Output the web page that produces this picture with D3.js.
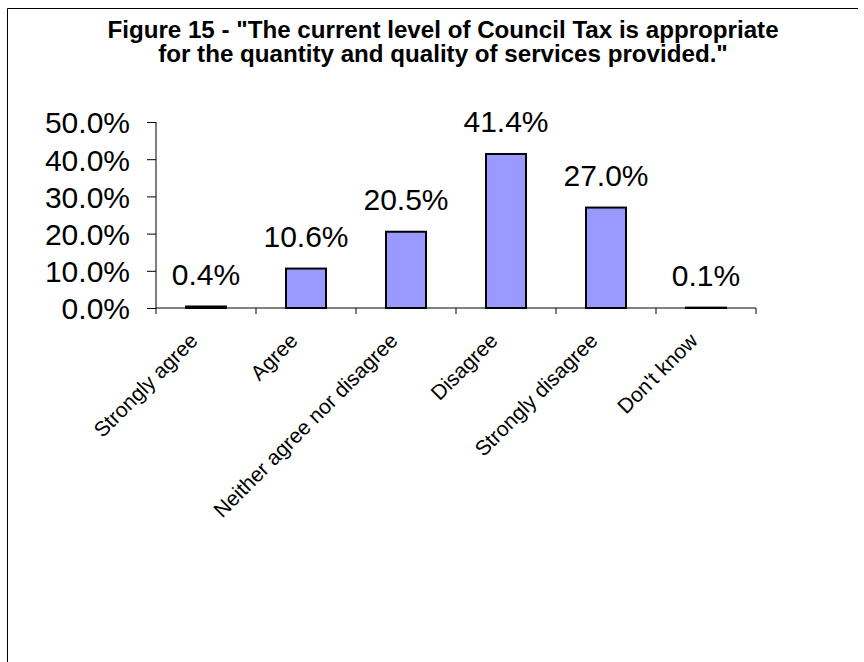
<!DOCTYPE html>
<html>
<head>
<meta charset="utf-8">
<script src="https://cdn.jsdelivr.net/npm/d3@7/dist/d3.min.js"></script>
<style>
  html, body { margin: 0; padding: 0; background: #fff; }
  svg { display: block; }
  text { font-family: "Liberation Sans", Arial, sans-serif; fill: #000; }
</style>
</head>
<body>
<svg id="chart" width="864" height="662"></svg>
<script>
// Survey responses (% of respondents)
const categories = ["Strongly agree", "Agree", "Neither agree nor disagree", "Disagree", "Strongly disagree", "Don't know"];
const values = [0.4, 10.6, 20.5, 41.4, 27.0, 0.1];
const yTicks = [0, 10, 20, 30, 40, 50];
const titleLines = ["Figure 15 - \"The current level of Council Tax is appropriate", "for the quantity and quality of services provided.\""];

const svg = d3.select("#chart");

// frame (top and left edges)
svg.append("line").attr("x1", 7.5).attr("x2", 858).attr("y1", 8.5).attr("y2", 8.5)
  .attr("stroke", "#000").attr("stroke-width", 1);
svg.append("line").attr("x1", 7.5).attr("x2", 7.5).attr("y1", 8.5).attr("y2", 662)
  .attr("stroke", "#000").attr("stroke-width", 1);

// title, slightly widened bold face
titleLines.forEach((t, i) => {
  svg.append("text")
    .attr("transform", `translate(443,${38 + i * 24}) scale(1.05,1)`)
    .attr("text-anchor", "middle")
    .style("font-weight", "bold").style("font-size", "23px")
    .text(t);
});

const x = d3.scaleBand().domain(categories).range([156, 756])
  .paddingInner(0.6).paddingOuter(0.3);
const y = d3.scaleLinear().domain([0, 50]).range([308, 122]);

// y axis
const yAxis = svg.append("g").attr("transform", "translate(156,0)")
  .call(d3.axisLeft(y).tickValues(yTicks).tickSize(9).tickPadding(17)
    .tickFormat(d => d.toFixed(1) + "%"));
yAxis.select(".domain").attr("stroke", "#000").attr("d", "M0,122V308");
yAxis.selectAll(".tick line").attr("stroke", "#000");
yAxis.selectAll(".tick text").style("font-size", "30px").attr("dy", "0.36em")
  .style("font-family", "'Liberation Sans', Arial, sans-serif");

// x axis: line plus ticks on category boundaries
const boundaries = d3.range(categories.length + 1).map(i => 156 + i * x.step());
svg.append("line").attr("x1", 156).attr("x2", 756).attr("y1", 308).attr("y2", 308)
  .attr("stroke", "#000");
svg.selectAll(".xtick").data(boundaries).join("line").attr("class", "xtick")
  .attr("x1", d => d).attr("x2", d => d).attr("y1", 308).attr("y2", 314)
  .attr("stroke", "#000");

// bars
svg.selectAll(".bar").data(values).join("rect").attr("class", "bar")
  .attr("x", (d, i) => x(categories[i]))
  .attr("width", x.bandwidth())
  .attr("y", d => y(d))
  .attr("height", d => y(0) - y(d))
  .attr("fill", "#9999FF").attr("stroke", "#000").attr("stroke-width", 2);

// value labels
svg.selectAll(".val").data(values).join("text").attr("class", "val")
  .attr("x", (d, i) => x(categories[i]) + x.bandwidth() / 2)
  .attr("y", d => y(d) - 21.5)
  .attr("text-anchor", "middle").style("font-size", "30px")
  .text(d => d.toFixed(1) + "%");

// category labels, rotated
svg.selectAll(".cat").data(categories).join("text").attr("class", "cat")
  .attr("transform", d => `translate(${x(d) + x.bandwidth() / 2 - 7},${342}) rotate(-45)`)
  .attr("text-anchor", "end").style("font-size", "21px")
  .text(d => d);
</script>
</body>
</html>
